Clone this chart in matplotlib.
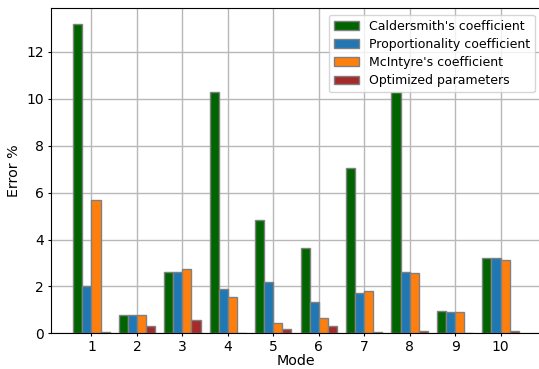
import numpy as np
import matplotlib.pyplot as plt

modes = np.arange(1, 11)
caldersmith = [13.2, 0.8, 2.62, 10.27, 4.83, 3.62, 7.05, 10.28, 0.95, 3.23]
proportionality = [2.03, 0.8, 2.62, 1.9, 2.17, 1.33, 1.7, 2.6, 0.92, 3.19]
mcintyre = [5.67, 0.79, 2.75, 1.55, 0.45, 0.66, 1.82, 2.58, 0.9, 3.12]
optimized = [0.05, 0.31, 0.57, 0.02, 0.17, 0.3, 0.05, 0.09, 0.02, 0.09]

width = 0.2

fig = plt.figure(figsize=(5.39, 3.69), dpi=100)
ax = fig.add_axes([51 / 539, 35.7 / 369, 490 / 539, 325 / 369])
ax.set_axisbelow(True)
ax.grid(True, color='#b8b8b8', linewidth=1)

ax.bar(modes - 1.5 * width, caldersmith, width, color='darkgreen', edgecolor='gray',
       label="Caldersmith's coefficient")
ax.bar(modes - 0.5 * width, proportionality, width, color='tab:blue', edgecolor='gray',
       label='Proportionality coefficient')
ax.bar(modes + 0.5 * width, mcintyre, width, color='tab:orange', edgecolor='gray',
       label="McIntyre's coefficient")
ax.bar(modes + 1.5 * width, optimized, width, color='brown', edgecolor='gray',
       label='Optimized parameters')

ax.set_xticks(modes)
ax.tick_params(labelsize=10, length=2.5, pad=2.5)
ax.set_xlabel('Mode', fontsize=10.3, labelpad=0)
ax.set_ylabel('Error %', fontsize=10.3)
ax.legend(loc='upper right', fontsize=9, labelspacing=0.42)
fig.savefig('out.png', dpi=100)
